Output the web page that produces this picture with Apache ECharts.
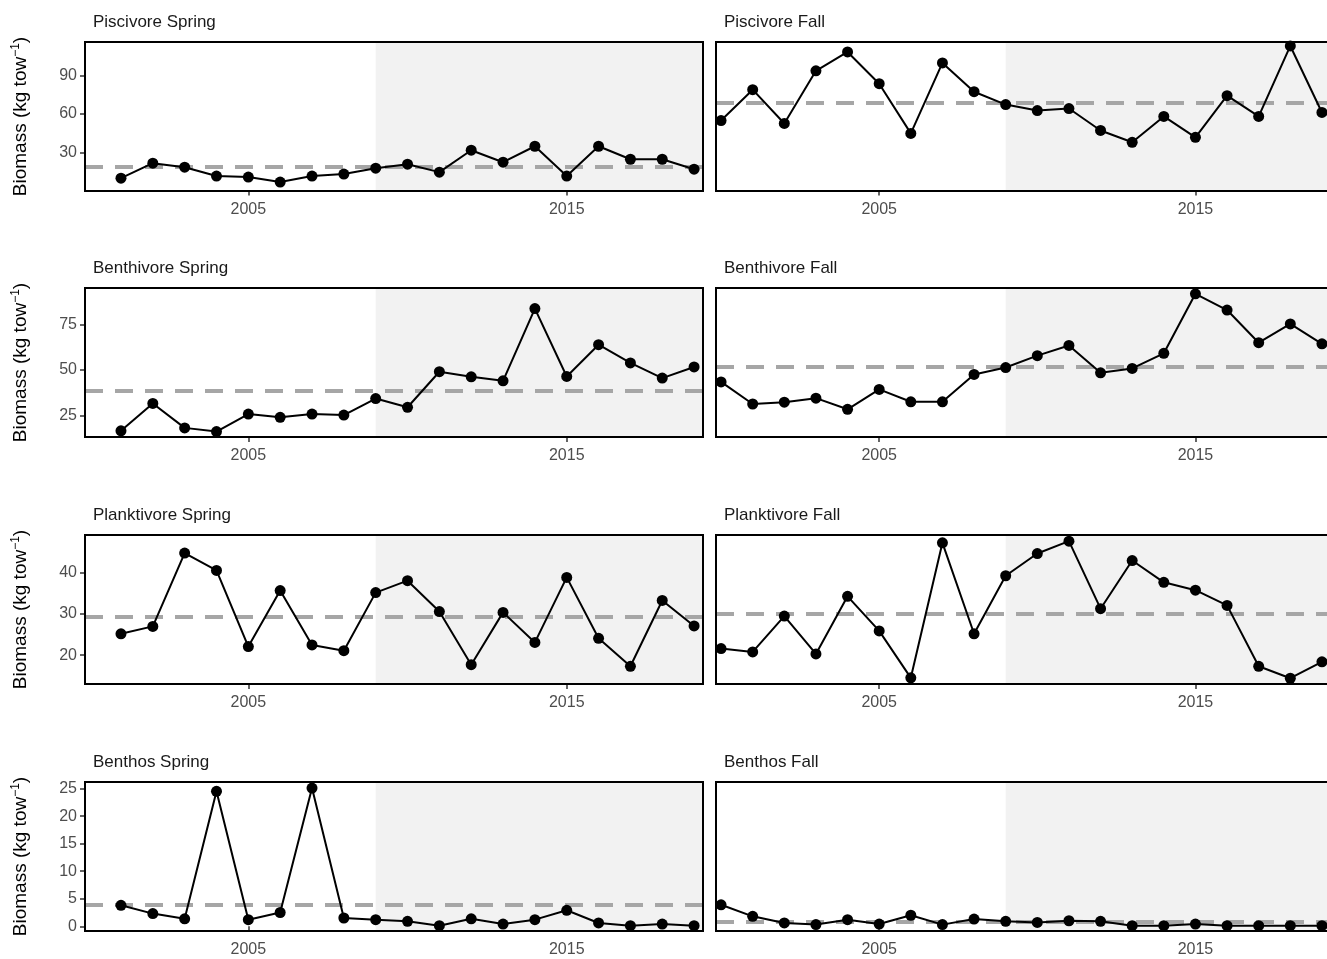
<!DOCTYPE html>
<html><head><meta charset="utf-8">
<script src="https://cdn.jsdelivr.net/npm/echarts@6/dist/echarts.min.js"></script>
<style>html,body{margin:0;padding:0;background:#fff}#c{width:1327px;height:959px}</style>
</head><body><div id="c"></div>
<script>
const springYears = [2001,2002,2003,2004,2005,2006,2007,2008,2009,2010,2011,2012,2013,2014,2015,2016,2017,2018,2019];
const fallYears = [2000,2001,2002,2003,2004,2005,2006,2007,2008,2009,2010,2011,2012,2013,2014,2015,2016,2017,2018,2019];
const piscSpring = [9.7,21.4,18.3,11.3,10.5,6.6,11.3,12.9,17.5,20.6,14.4,31.6,22.2,34.7,11.3,34.7,24.5,24.5,16.7];
const piscFall = [54.9,79.1,52.6,93.9,108.7,83.8,44.8,100.1,77.5,67.4,62.7,64.3,47.1,37.8,58.1,41.7,74.4,58.1,113.4,61.2];
const benthSpring = [16.7,31.7,18.3,16.3,25.9,24.1,25.9,25.3,34.4,29.6,49.1,46.3,44.1,83.7,46.5,63.9,53.9,45.6,51.7];
const benthFall = [43.5,31.4,32.4,34.6,28.5,39.4,32.6,32.6,47.6,51.4,57.9,63.5,48.5,50.9,59.2,91.8,82.9,65,75.3,64.4];
const plankSpring = [25.2,27.0,44.8,40.6,22.1,35.7,22.5,21.1,35.2,38.1,30.6,17.7,30.4,23.1,38.9,24.1,17.3,33.3,27.1];
const plankFall = [21.6,20.8,29.5,20.3,34.3,25.9,14.5,47.3,25.2,39.3,44.7,47.7,31.3,43,37.7,35.8,32.1,17.3,14.4,18.4];
const benthosSpring = [3.8,2.3,1.35,24.5,1.2,2.5,25.1,1.5,1.2,0.9,0.1,1.35,0.4,1.2,2.9,0.6,0.1,0.4,0.1];
const benthosFall = [3.9,1.8,0.6,0.3,1.2,0.4,2.0,0.3,1.3,0.9,0.7,1.0,0.9,0.1,0.1,0.4,0.1,0.1,0.1,0.1];
const means = {piscSpring:18.3,piscFall:69,benthSpring:38.7,benthFall:51.7,plankSpring:29.3,plankFall:30.1,benthosSpring:3.9,benthosFall:0.9};
const titles = ["Piscivore Spring","Piscivore Fall","Benthivore Spring","Benthivore Fall","Planktivore Spring","Planktivore Fall","Benthos Spring","Benthos Fall"];
const yRanges = [[-0.4,116.5],[13.3,95],[13,49.2],[-0.86,26.2]];
const yTicks = [[30,60,90],[25,50,75],[20,30,40],[0,5,10,15,20,25]];
const xTicks = [2005,2015];
const shadeStart = 2009;

const panels = [
 [springYears,piscSpring,means.piscSpring],[fallYears,piscFall,means.piscFall],
 [springYears,benthSpring,means.benthSpring],[fallYears,benthFall,means.benthFall],
 [springYears,plankSpring,means.plankSpring],[fallYears,plankFall,means.plankFall],
 [springYears,benthosSpring,means.benthosSpring],[fallYears,benthosFall,means.benthosFall]
];
const tops=[42,288,535,782];
const grid=[],xAxis=[],yAxis=[],series=[],title=[],graphic=[];
panels.forEach((p,i)=>{
  const row=Math.floor(i/2), col=i%2;
  const left = col===0?85:716, width = col===0?618:613;
  const xmin = col===0?1999.87:1999.84, xmax = col===0?2019.28:2019.16;
  grid.push({left:left,top:tops[row],width:width,height:149});
  graphic.push({type:'rect',z:100,silent:true,shape:{x:left,y:tops[row],width:width,height:149},style:{fill:null,stroke:'#000',lineWidth:2}});
  title.push({text:titles[i],left:left+3,top:tops[row]-33,textStyle:{fontFamily:'Liberation Sans, Arial',fontSize:17,fontWeight:'normal',color:'#1a1a1a'}});
  xAxis.push({gridIndex:i,type:'value',min:xmin,max:xmax,splitLine:{show:false},
    axisLine:{show:false},axisTick:{show:true,length:5,customValues:xTicks,lineStyle:{color:'#333',width:1.5}},
    axisLabel:{customValues:xTicks,color:'#4d4d4d',fontSize:16,fontFamily:'Liberation Sans, Arial',margin:11,formatter:v=>String(v)}});
  yAxis.push({gridIndex:i,type:'value',min:yRanges[row][0],max:yRanges[row][1],splitLine:{show:false},
    axisLine:{show:false},
    axisTick:{show:col===0,length:5,customValues:yTicks[row],lineStyle:{color:'#333',width:1.5}},
    axisLabel:{show:col===0,customValues:yTicks[row],color:'#4d4d4d',fontSize:16,fontFamily:'Liberation Sans, Arial',margin:8},
    name:col===0?'Biomass (kg tow{s|−1})':'',nameLocation:'middle',nameGap:53,nameRotate:90,
    nameTextStyle:{fontSize:19,color:'#000',fontFamily:'Liberation Sans, Arial',rich:{s:{fontSize:12,verticalAlign:'top',padding:[0,0,10,0],color:'#000'}}}});
  series.push({type:'line',xAxisIndex:i,yAxisIndex:i,data:p[0].map((y,k)=>[y,p[1][k]]),
    symbol:'circle',symbolSize:11,itemStyle:{color:'#000'},lineStyle:{color:'#000',width:2},z:5,animation:false,
    markArea:{silent:true,itemStyle:{color:'#f2f2f2'},data:[[{xAxis:shadeStart},{xAxis:xmax}]],z:1},
    markLine:{silent:true,symbol:'none',label:{show:false},lineStyle:{color:'#a6a6a6',type:[18,12],width:4},data:[{yAxis:p[2]}],z:2}});
});
const chart=echarts.init(document.getElementById('c'));
chart.setOption({animation:false,title,grid,xAxis,yAxis,series,graphic});
</script></body></html>
